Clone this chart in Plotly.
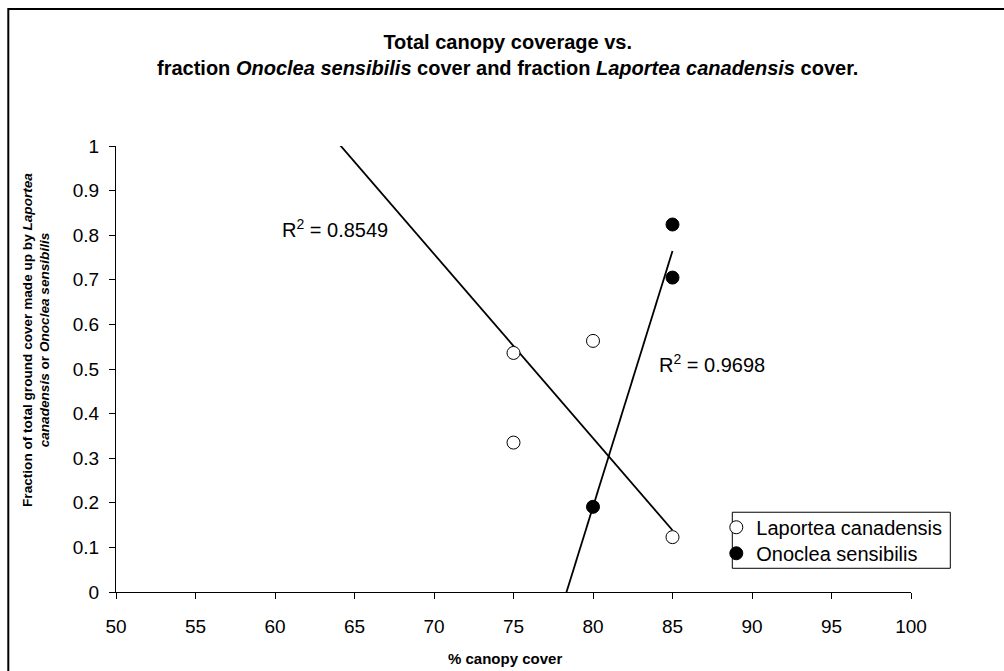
import numpy as np
import plotly.graph_objects as go

# ---- data ----
lap_name = "Laportea canadensis"
lap_x = [75, 75, 80, 85]
lap_y = [0.536, 0.335, 0.563, 0.123]

ono_name = "Onoclea sensibilis"
ono_x = [80, 85, 85]
ono_y = [0.191, 0.705, 0.824]

# linear trendlines (Laportea coefficients)
lap_trend_slope = -0.0413
lap_trend_intercept = 3.649
lap_trend_span = [60, 85]
ono_trend_span = [75, 85]
r2_values = ["0.8549", "0.9698"]

x_ticks = list(range(50, 101, 5))
y_ticks = [round(v * 0.1, 1) for v in range(0, 11)]

# ---- geometry helpers (pixels of the 1004x671 page) ----
W, H = 1004, 671
L, R, T, B = 115.7, 910.7, 146.0, 591.7


def px(xp):
    return (xp - L) / (R - L)


def py(yp):
    return (B - yp) / (B - T)


FONT = "Liberation Sans, Arial, sans-serif"

ono_slope, ono_intercept = np.polyfit(ono_x, ono_y, 1)
lap_tx = np.array(lap_trend_span, dtype=float)
lap_ty = lap_trend_slope * lap_tx + lap_trend_intercept
ono_tx = np.array(ono_trend_span, dtype=float)
ono_ty = ono_slope * ono_tx + ono_intercept

fig = go.Figure()
fig.add_trace(go.Scatter(x=lap_tx, y=lap_ty, mode="lines", showlegend=False,
                         line=dict(color="black", width=1.8), hoverinfo="skip"))
fig.add_trace(go.Scatter(x=ono_tx, y=ono_ty, mode="lines", showlegend=False,
                         line=dict(color="black", width=1.8), hoverinfo="skip"))
fig.add_trace(go.Scatter(x=lap_x, y=lap_y, mode="markers", name=lap_name,
                         legend="legend",
                         marker=dict(symbol="circle", size=13, color="white",
                                     line=dict(color="black", width=1))))
fig.add_trace(go.Scatter(x=ono_x, y=ono_y, mode="markers", name=ono_name,
                         legend="legend2",
                         marker=dict(symbol="circle", size=13, color="black",
                                     line=dict(color="black", width=1))))

axis_common = dict(showline=True, linecolor="black", linewidth=1, ticks="outside",
                   ticklen=6, tickwidth=1, tickcolor="black", showgrid=False,
                   zeroline=False, tickfont=dict(family=FONT, size=19, color="black"))

fig.update_xaxes(range=[50, 100], tickvals=x_ticks, ticktext=[str(v) for v in x_ticks],
                 ticklabelstandoff=11, **axis_common)
fig.update_yaxes(range=[0, 1], tickvals=y_ticks, ticktext=[f"{v:g}" for v in y_ticks],
                 ticklabelstandoff=6, **axis_common)

annotations = [
    dict(text="<b>Total canopy coverage vs.<br>fraction <i>Onoclea sensibilis</i> cover and "
              "fraction <i>Laportea canadensis</i> cover.</b>",
         xref="paper", yref="paper", x=px(507.5), y=py(55.3), xanchor="center",
         yanchor="middle", showarrow=False, font=dict(family=FONT, size=20, color="black")),
    dict(text="<b>% canopy cover</b>", xref="paper", yref="paper", x=px(505),
         y=py(658), xanchor="center", yanchor="middle", showarrow=False,
         font=dict(family=FONT, size=15, color="black")),
    dict(text="<b>Fraction of total ground cover made up by <i>Laportea</i><br>"
              "<i>canadensis</i> or <i>Onoclea sensibilis</i></b>",
         xref="paper", yref="paper", x=px(35.5), y=py(340), xanchor="center",
         yanchor="middle", textangle=-90, showarrow=False,
         font=dict(family=FONT, size=13.6, color="black")),
    dict(text=f"R<sup>2</sup> = {r2_values[0]}", xref="paper", yref="paper",
         x=px(279.3), y=py(228.3), xanchor="left", yanchor="middle", showarrow=False,
         font=dict(family=FONT, size=20, color="black")),
    dict(text=f"R<sup>2</sup> = {r2_values[1]}", xref="paper", yref="paper",
         x=px(657), y=py(363.5), xanchor="left", yanchor="middle", showarrow=False,
         font=dict(family=FONT, size=20, color="black")),
]

shapes = [
    # outer chart frame
    dict(type="rect", xref="paper", yref="paper", x0=px(8), x1=px(1012),
         y0=py(690), y1=py(9), line=dict(color="black", width=2), layer="below"),
    # legend box
    dict(type="rect", xref="paper", yref="paper", x0=px(732), x1=px(950),
         y0=py(568), y1=py(512), fillcolor="white", line=dict(color="black", width=1),
         layer="above"),
]

legend_common = dict(xanchor="left", yanchor="middle", bgcolor="rgba(0,0,0,0)",
                     borderwidth=0, font=dict(family=FONT, size=20, color="black"),
                     itemsizing="trace")

fig.update_layout(
    width=W, height=H,
    margin=dict(l=L, r=W - R, t=T, b=H - B, pad=0),
    paper_bgcolor="white", plot_bgcolor="white",
    font=dict(family=FONT, color="black"),
    showlegend=True,
    legend=dict(x=px(716), y=py(527), **legend_common),
    legend2=dict(x=px(716), y=py(553), **legend_common),
    annotations=annotations,
    shapes=shapes,
)

fig.write_html("out.html", config={"displayModeBar": False},
               post_script="document.body.style.margin='0px';")
